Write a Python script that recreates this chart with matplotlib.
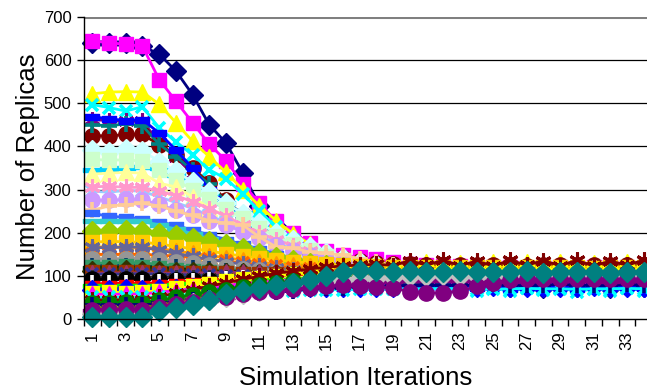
import numpy as np
import matplotlib.pyplot as plt
from matplotlib.path import Path

plt.rcParams['font.family'] = ['Liberation Sans', 'DejaVu Sans']

iterations = list(range(1, 35))

# replica counts per node, one list per node
s01 = [640,640,640,632,614,575,520,450,408,339,262,215,185,160,142,128,118,108,100,92,86,80,84,76,82,74,80,73,81,75,79,72,80,74]
s02 = [645,640,637,632,555,505,455,405,367,314,268,227,199,177,158,148,143,138,132,128,125,123,122,121,120,121,119,120,120,119,121,120,120,119]
s03 = [522,526,527,526,498,455,412,376,340,300,262,228,198,174,156,144,136,131,128,126,132,122,130,121,133,124,131,120,132,125,130,122,133,124]
s04 = [497,490,482,492,443,411,380,346,325,290,250,214,184,160,140,122,108,97,90,84,76,70,74,66,72,64,71,67,73,63,70,66,72,65]
s05 = [462,460,458,458,410,375,336,296,265,238,210,186,166,148,134,122,113,106,100,96,94,92,91,90,90,89,90,89,90,90,89,90,90,89]
s06 = [425,424,428,428,404,380,350,315,276,240,216,195,176,162,150,141,135,130,128,127,126,125,126,125,126,125,124,126,125,124,126,125,126,125]
s07 = [450,448,452,448,405,376,345,312,272,238,210,186,166,150,137,127,119,113,110,108,106,105,105,104,105,105,104,105,106,105,104,105,105,104]
s08 = [469,464,460,462,431,392,350,300,269,237,206,181,160,144,130,118,108,100,94,89,82,76,80,72,78,70,77,73,79,70,76,71,78,72]
s09 = [345,347,350,352,350,334,316,292,268,245,221,199,180,163,149,137,127,119,113,108,104,101,99,98,97,96,96,95,96,95,95,96,95,95]
s10 = [392,388,393,390,365,342,318,294,268,244,222,200,182,166,152,141,132,125,121,118,117,116,115,116,115,115,116,115,115,114,115,116,115,115]
s11 = [370,368,369,366,345,322,300,278,256,234,212,192,175,160,147,136,126,118,112,108,105,103,102,101,101,100,101,100,100,101,100,100,101,100]
s12 = [336,338,340,338,315,306,283,257,238,211,195,180,166,153,142,133,126,120,116,114,112,111,110,111,110,110,111,110,110,109,110,111,110,110]
s13 = [296,294,298,296,283,270,256,240,224,208,192,176,162,149,137,126,117,110,105,101,99,97,96,96,95,95,96,95,95,95,96,95,95,95]
s14 = [306,308,305,305,296,286,272,256,238,218,200,184,170,157,145,135,126,119,114,110,108,107,106,106,105,105,106,105,105,104,105,106,105,105]
s15 = [276,275,277,276,266,252,240,228,218,202,187,172,160,149,140,132,126,121,118,117,116,115,116,115,115,116,115,114,115,116,115,115,114,115]
s16 = [252,262,265,268,262,250,240,228,222,218,190,167,165,155,152,148,140,132,125,120,116,114,112,111,111,110,111,110,110,111,110,110,111,110]
s17 = [245,238,236,232,225,217,206,195,184,173,162,151,141,132,124,117,112,108,105,103,102,101,101,100,101,100,100,101,100,100,101,100,100,100]
s18 = [228,226,228,226,218,208,198,186,175,164,153,143,133,124,116,109,103,98,95,93,92,91,91,90,90,91,90,90,90,91,90,90,90,90]
s19 = [205,204,206,205,200,194,188,181,175,165,153,144,137,130,125,120,116,114,112,111,110,110,111,110,110,109,110,111,110,110,109,110,110,110]
s20 = [178,180,179,178,174,168,163,158,151,146,141,137,133,130,127,125,123,122,121,120,121,120,120,121,120,119,120,121,120,120,119,120,121,120]
s21 = [166,168,166,167,163,158,152,147,142,137,132,128,125,122,120,118,117,116,115,115,116,115,115,114,115,116,115,115,114,115,116,115,115,114]
s22 = [150,150,150,150,148,146,142,138,134,130,126,122,119,116,113,111,109,108,107,106,106,105,105,106,105,105,104,105,106,105,105,104,105,105]
s23 = [166,165,167,166,160,152,145,138,132,127,122,118,114,111,108,106,104,103,102,101,101,100,100,101,100,100,99,100,101,100,100,99,100,100]
s24 = [140,138,140,139,136,133,129,125,121,117,113,110,107,104,102,100,99,97,96,96,95,95,96,95,95,94,95,96,95,95,94,95,95,95]
s25 = [124,124,124,123,122,120,118,115,112,109,106,103,100,98,96,94,93,92,91,90,90,90,91,90,90,89,90,90,91,90,90,89,90,90]
s26 = [130,130,131,130,127,124,121,118,115,112,109,107,105,103,102,101,100,100,99,100,100,99,100,100,101,100,99,100,100,101,100,100,99,100]
s27 = [118,118,117,118,116,114,112,110,108,106,104,102,100,99,98,97,96,96,95,95,96,95,95,94,95,96,95,95,94,95,95,96,95,95]
s28 = [112,112,113,112,111,110,109,108,107,106,105,104,103,102,102,101,101,100,100,100,101,100,100,99,100,101,100,100,99,100,100,101,100,100]
s29 = [108,108,108,108,107,107,106,106,106,105,105,105,105,105,105,104,105,105,104,105,105,106,105,105,104,105,105,106,105,105,104,105,105,106]
s30 = [106,106,107,106,106,106,107,107,108,108,108,109,109,109,110,110,110,111,110,110,111,110,110,109,110,111,110,110,109,110,111,110,110,109]
s31 = [104,104,104,105,104,103,102,101,100,99,98,97,96,95,94,93,92,92,91,91,90,90,91,90,90,89,90,90,91,90,90,89,90,90]
s32 = [96,96,97,96,96,96,96,96,96,96,96,96,95,95,95,95,95,95,95,96,95,95,94,95,95,96,95,95,94,95,96,95,95,94]
s33 = [92,92,93,92,91,91,90,90,89,89,88,88,87,87,86,86,86,85,85,85,86,85,85,84,85,86,85,85,84,85,85,86,85,85]
s34 = [84,84,84,84,85,87,89,91,93,94,95,96,97,98,98,99,99,100,100,100,100,101,100,100,99,100,101,100,100,99,100,100,101,100]
s35 = [82,82,83,82,84,86,88,91,93,96,98,100,102,104,105,106,107,108,108,109,110,110,109,110,111,110,110,109,110,110,111,110,110,109]
s36 = [76,75,76,76,77,79,81,83,85,87,88,90,91,92,93,94,94,95,95,95,95,96,95,95,94,95,96,95,95,94,95,95,96,95]
s37 = [68,68,69,68,69,70,71,72,72,73,73,74,74,74,75,75,75,75,75,76,75,75,74,75,76,75,75,74,75,75,76,75,75,74]
s38 = [60,62,61,62,66,71,76,82,87,92,96,100,104,107,109,111,112,113,114,114,115,115,116,115,115,114,115,116,115,115,114,115,116,115]
s39 = [58,57,58,58,62,66,70,74,78,82,85,88,91,93,95,96,97,98,99,99,100,100,101,100,100,99,100,101,100,100,99,100,100,101]
s40 = [50,50,51,50,52,55,57,59,61,63,64,65,66,67,68,68,69,69,70,70,70,71,70,70,69,70,71,70,70,69,70,70,71,70]
s41 = [45,44,45,45,52,60,68,76,84,92,99,106,111,116,120,123,125,127,124,135,125,136,124,134,123,136,125,135,124,136,123,134,125,136]
s42 = [38,38,39,38,44,50,56,62,68,74,79,84,88,91,94,96,97,98,99,104,95,106,94,105,96,107,94,104,95,106,95,105,94,104]
s43 = [32,32,33,32,36,40,44,48,52,56,60,63,66,69,71,73,75,76,77,78,78,79,78,79,80,79,78,79,80,79,78,79,80,79]
s44 = [25,26,25,26,32,38,45,52,58,64,70,75,79,83,86,88,90,91,92,93,94,94,95,94,95,94,95,96,95,94,95,95,94,95]
s45 = [18,18,19,18,24,31,38,45,52,58,64,69,74,78,81,84,86,88,89,90,90,91,90,91,90,89,90,91,90,91,90,89,90,90]
s46 = [12,12,13,12,20,28,36,44,52,59,66,72,78,83,87,91,94,96,98,99,100,101,100,100,99,100,101,100,100,99,100,101,100,100]
s47 = [22,22,23,22,28,34,40,46,52,57,62,66,70,73,76,78,76,74,72,63,60,61,64,76,84,90,92,93,92,93,92,93,92,93]
s48 = [5,4,5,5,18,25,32,45,58,66,72,79,84,90,100,108,113,112,110,112,108,110,112,108,110,109,111,107,110,108,109,106,110,108]

series = [s01, s02, s03, s04, s05, s06, s07, s08, s09, s10, s11, s12, s13, s14, s15, s16,
          s17, s18, s19, s20, s21, s22, s23, s24, s25, s26, s27, s28, s29, s30, s31, s32,
          s33, s34, s35, s36, s37, s38, s39, s40, s41, s42, s43, s44, s45, s46, s47, s48]

colors = ['#000080', '#FF00FF', '#FFFF00', '#00FFFF', '#800080', '#800000', '#008080', '#0000FF',
          '#00CCFF', '#CCFFFF', '#CCFFCC', '#FFFF99', '#99CCFF', '#FF99CC', '#CC99FF', '#FFCC99',
          '#3366FF', '#33CCCC', '#99CC00', '#FFCC00', '#FF9900', '#FF6600', '#666699', '#969696',
          '#003366', '#339966', '#003300', '#333300', '#993300', '#993366', '#333399', '#333333',
          '#000000', '#FFFFFF', '#FF0000', '#00FF00', '#0000FF', '#FFFF00', '#FF00FF', '#00FFFF',
          '#800000', '#008000', '#000080', '#808000', '#800080', '#C0C0C0', '#800080', '#008080']

# excel style marker cycle
bar = Path([(-1, -0.4), (1, -0.4), (1, 0.4), (-1, 0.4), (-1, -0.4)])
longbar = Path([(-1, -0.25), (1, -0.25), (1, 0.25), (-1, 0.25), (-1, -0.25)])
cycle = [('D', 10, 1), ('s', 10.5, 1), ('^', 11, 1), ('x', 9, 2.6), ((6, 2, 0), 11.5, 2.2),
         ('o', 11, 1), ('+', 11.5, 2.6), (bar, 10.5, 1), (longbar, 12.5, 1)]
markers = [cycle[i % 9] for i in range(len(series))]
markers[46] = cycle[5]   # purple circles
markers[47] = cycle[0]   # teal diamonds

fig = plt.figure(figsize=(6.47, 3.90), dpi=100)
ax = fig.add_axes([84 / 647, 71 / 390, 568 / 647, 302 / 390])

for k, (vals, col, (mk, ms, mw)) in enumerate(zip(series, colors, markers)):
    ax.plot(iterations, vals, color=col, lw=2, marker=mk, markersize=ms,
            markeredgewidth=mw, markerfacecolor=col, markeredgecolor=col,
            zorder=3 + k * 0.01, clip_on=False)

ax.set_xlim(0.5, 34.5)
ax.set_ylim(0, 700)

# horizontal gridlines
ax.set_yticks(np.arange(0, 701, 100))
for v in range(100, 700, 100):
    ax.axhline(v, color='black', lw=0.9, zorder=1)
ax.axhline(700, color='#808080', lw=2.2, zorder=1)

ax.spines['top'].set_visible(False)
ax.spines['right'].set_visible(False)
ax.spines['left'].set_color('black')
ax.spines['bottom'].set_color('black')
ax.spines['left'].set_linewidth(1)
ax.spines['bottom'].set_linewidth(1)
ax.spines['left'].set_zorder(10)
ax.spines['bottom'].set_zorder(10)

ax.tick_params(axis='y', direction='out', length=5, width=1, labelsize=12, pad=4)

# category ticks between points, labels on odd iterations
ax.set_xticks(np.arange(0.5, 35, 1))
ax.set_xticklabels([])
ax.set_xticks(iterations[::2], minor=True)
ax.set_xticklabels([str(i) for i in iterations[::2]], minor=True, rotation=90)
ax.tick_params(axis='x', which='major', direction='out', length=5, width=1)
ax.tick_params(axis='x', which='minor', length=0, labelsize=12, pad=9)
for t in ax.get_xticklabels(minor=True):
    t.set_va('top')

fig.text(0.043, 0.572, 'Number of Replicas', rotation=90, fontsize=18.5,
         ha='center', va='center')
fig.text(0.549, 0.03, 'Simulation Iterations', fontsize=18.5,
         ha='center', va='center')

fig.savefig('out.png', dpi=100)
